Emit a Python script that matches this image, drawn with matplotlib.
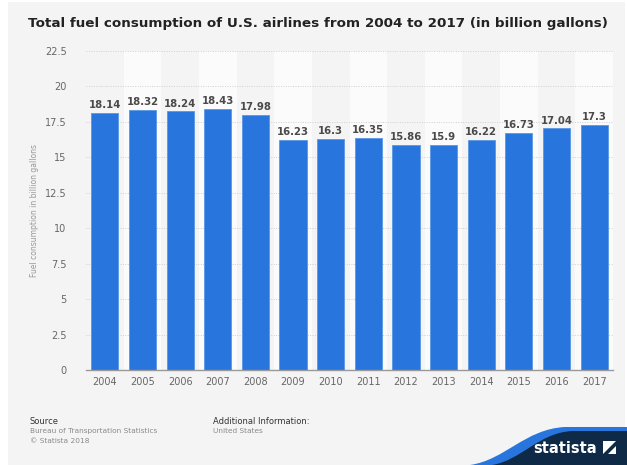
import matplotlib.pyplot as plt
import numpy as np
from matplotlib.path import Path
from matplotlib.patches import PathPatch, Rectangle, Polygon

years = ["2004", "2005", "2006", "2007", "2008", "2009", "2010",
         "2011", "2012", "2013", "2014", "2015", "2016", "2017"]
fuel = [18.14, 18.32, 18.24, 18.43, 17.98, 16.23, 16.3,
        16.35, 15.86, 15.9, 16.22, 16.73, 17.04, 17.3]
labels = ["18.14", "18.32", "18.24", "18.43", "17.98", "16.23", "16.3",
          "16.35", "15.86", "15.9", "16.22", "16.73", "17.04", "17.3"]
yticks = [0, 2.5, 5, 7.5, 10, 12.5, 15, 17.5, 20, 22.5]
ytick_labels = ["0", "2.5", "5", "7.5", "10", "12.5", "15", "17.5", "20", "22.5"]

W, H = 627, 465
fig = plt.figure(figsize=(W / 100, H / 100), dpi=100)
fig.patch.set_facecolor("white")

# background layer in pixel coords
bg = fig.add_axes([0, 0, 1, 1], zorder=0)
bg.set_xlim(0, W)
bg.set_ylim(H, 0)
bg.axis("off")
bg.add_patch(Rectangle((8, 2), W - 10, H - 2, color="#f4f4f4", lw=0))

# statista logo swoosh
codes = [Path.MOVETO, Path.CURVE4, Path.CURVE4, Path.CURVE4, Path.LINETO, Path.LINETO, Path.CLOSEPOLY]
verts_blue = [(470, 465), (505, 460), (525, 429), (565, 427), (627, 427), (627, 465), (470, 465)]
bg.add_patch(PathPatch(Path(verts_blue, codes), color="#2876dd", lw=0))
verts_navy = [(492, 465), (522, 460), (538, 433), (572, 431), (627, 431), (627, 465), (492, 465)]
bg.add_patch(PathPatch(Path(verts_navy, codes), color="#0e2a47", lw=0))
bg.text(597, 448, "statista", color="white", fontsize=10.5, fontweight="bold",
        ha="right", va="center")
bg.add_patch(Rectangle((603, 441), 13, 13, color="white", lw=0))
bg.add_patch(Polygon([(603, 454), (616, 441), (616, 446), (608, 454)], color="#0e2a47", lw=0))

bg.text(28, 23, "Total fuel consumption of U.S. airlines from 2004 to 2017 (in billion gallons)",
        fontsize=9.7, fontweight="bold", color="#222222", va="center", ha="left")

bg.text(30, 421, "Source", fontsize=6, color="#333333", va="center")
bg.text(30, 431, "Bureau of Transportation Statistics", fontsize=5.3, color="#8a8a8a", va="center")
bg.text(30, 441, "\u00a9 Statista 2018", fontsize=5.3, color="#8a8a8a", va="center")
bg.text(213, 421, "Additional Information:", fontsize=6, color="#333333", va="center")
bg.text(213, 431, "United States", fontsize=5.3, color="#8a8a8a", va="center")

ax = fig.add_axes([86 / W, 1 - 370 / H, 527 / W, 319 / H], zorder=1)
ax.patch.set_alpha(0)
x = np.arange(len(years))
for i in x:
    if i % 2 == 1:
        ax.axvspan(i - 0.5, i + 0.5, color="#fbfbfb", lw=0, zorder=0)
for t in yticks[1:]:
    ax.axhline(t, color="#cfcfcf", lw=0.7, ls=(0, (1, 1.5)), zorder=1)

ax.bar(x, fuel, width=0.72, color="#2876dd", edgecolor="#5a96e6", lw=0.6, zorder=2)
for xi, v, lab in zip(x, fuel, labels):
    ax.text(xi, v + 0.2, lab, ha="center", va="bottom", fontsize=7.3,
            fontweight="bold", color="#4a4a4a", zorder=3)

ax.set_xlim(-0.5, len(years) - 0.5)
ax.set_ylim(0, 22.5)
ax.set_yticks(yticks)
ax.set_yticklabels(ytick_labels)
ax.set_xticks(x)
ax.set_xticklabels(years)
ax.tick_params(axis="both", length=0, labelsize=7, labelcolor="#666666")
ax.tick_params(axis="y", pad=14)
ax.tick_params(axis="x", pad=5)
for s in ["top", "right", "left"]:
    ax.spines[s].set_visible(False)
ax.spines["bottom"].set_color("#999999")
ax.spines["bottom"].set_linewidth(1)
ax.set_ylabel("Fuel consumption in billion gallons", fontsize=5.5, color="#999999", labelpad=4)

fig.savefig("out.png", dpi=100, facecolor=fig.get_facecolor())
